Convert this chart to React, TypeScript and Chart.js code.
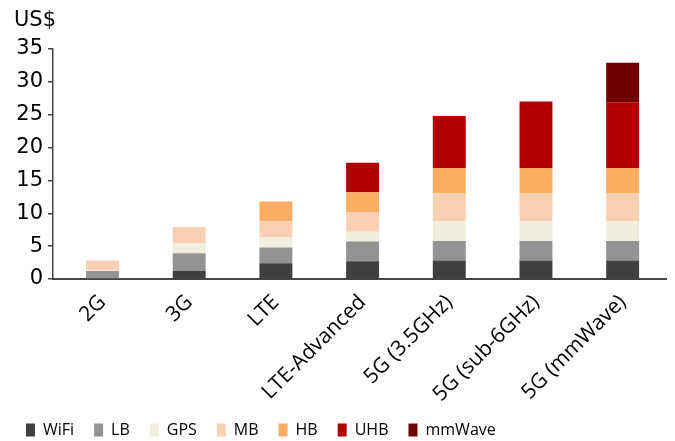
import React, { useEffect, useRef } from "react";
import { Chart, registerables } from "chart.js";

Chart.register(...registerables);

const categories = ["2G", "3G", "LTE", "LTE-Advanced", "5G (3.5GHz)", "5G (sub-6GHz)", "5G (mmWave)"];
const wifi = [0, 1.2, 2.4, 2.7, 2.8, 2.8, 2.8];
const lb = [1.2, 2.7, 2.4, 3.0, 3.0, 3.0, 3.0];
const gps = [0.1, 1.5, 1.6, 1.5, 3.0, 3.0, 3.0];
const mb = [1.5, 2.5, 2.4, 3.0, 4.2, 4.2, 4.2];
const hb = [0, 0, 3.0, 3.0, 3.9, 3.9, 3.9];
const uhb = [0, 0, 0, 4.5, 7.9, 10.1, 10.0];
const mmwave = [0, 0, 0, 0, 0, 0, 6.0];
const yTicks = [0, 5, 10, 15, 20, 25, 30, 35];
const unitLabel = "US$";

const seriesNames = ["WiFi", "LB", "GPS", "MB", "HB", "UHB", "mmWave"];
const seriesData = [wifi, lb, gps, mb, hb, uhb, mmwave];
const seriesColors = ["#404040", "#939393", "#EFEEDF", "#F9D0B1", "#FBAE61", "#B30000", "#700000"];

const numFont = "'DejaVu Sans', Verdana, sans-serif";
const textFont = "'Open Sans', 'Liberation Sans', sans-serif";

const unitPlugin = {
  id: "unitTitle",
  afterDraw(chart: any) {
    const ctx = chart.ctx;
    ctx.save();
    ctx.fillStyle = "#000";
    ctx.font = `21px ${numFont}`;
    ctx.textAlign = "left";
    ctx.textBaseline = "middle";
    ctx.fillText(unitLabel, 14, 21);
    ctx.restore();
  },
};

const legendFitPlugin = {
  id: "legendFit",
  beforeLayout(chart: any) {
    const lg = chart.legend;
    if (lg && !lg.__patched) {
      const orig = lg.fit;
      lg.fit = function () {
        orig.call(this);
        this.height = 39;
      };
      lg.__patched = true;
    }
  },
};

export default function App() {
  const ref = useRef<HTMLCanvasElement | null>(null);
  useEffect(() => {
    if (!ref.current) return;
    const chart = new Chart(ref.current, {
      type: "bar",
      data: {
        datasets: seriesNames.map((n, i) => ({
          label: n,
          data: seriesData[i].map((v, j) => ({ x: j, y: v })),
          backgroundColor: seriesColors[i],
          borderWidth: 0,
          barPercentage: 0.38,
          categoryPercentage: 1,
        })),
      },
      plugins: [unitPlugin, legendFitPlugin],
      options: {
        animation: false,
        responsive: true,
        maintainAspectRatio: false,
        layout: { padding: { left: 6, right: 9, top: 49, bottom: 0 } },
        plugins: {
          tooltip: { enabled: false },
          title: { display: false },
          legend: {
            position: "bottom",
            align: "start",
            labels: {
              boxWidth: 9,
              boxHeight: 13,
              color: "#000",
              padding: 20,
              font: { family: textFont, size: 16 },
            },
          },
        },
        scales: {
          x: {
            type: "linear",
            stacked: true,
            min: -0.571,
            max: 6.5,
            offset: false,
            afterBuildTicks: (axis: any) => {
              axis.ticks = categories.map((_, i) => ({ value: i }));
            },
            grid: { display: false },
            border: { display: true, color: "#444", width: 2 },
            afterFit: (axis: any) => {
              axis.height = 123;
            },
            ticks: {
              autoSkip: false,
              maxRotation: 45,
              minRotation: 45,
              padding: 3,
              color: "#000",
              font: { family: textFont, size: 21 },
              callback: (v: any) => categories[Math.round(Number(v))] ?? "",
            },
          },
          y: {
            stacked: true,
            min: 0,
            max: 35,
            afterBuildTicks: (axis: any) => {
              axis.ticks = yTicks.map((v) => ({ value: v }));
            },
            afterFit: (axis: any) => {
              axis.width = 47;
            },
            grid: { drawOnChartArea: false, drawTicks: true, tickLength: 5, color: "#444", lineWidth: 1.5 },
            border: { display: true, color: "#444", width: 1.5 },
            ticks: {
              color: "#000",
              padding: 5,
              font: { family: numFont, size: 21 },
            },
          },
        },
      },
    });
    return () => chart.destroy();
  }, []);
  return (
    <div style={{ position: "absolute", left: 0, top: 0, width: 675, height: 441 }}>
      <canvas ref={ref} />
    </div>
  );
}
